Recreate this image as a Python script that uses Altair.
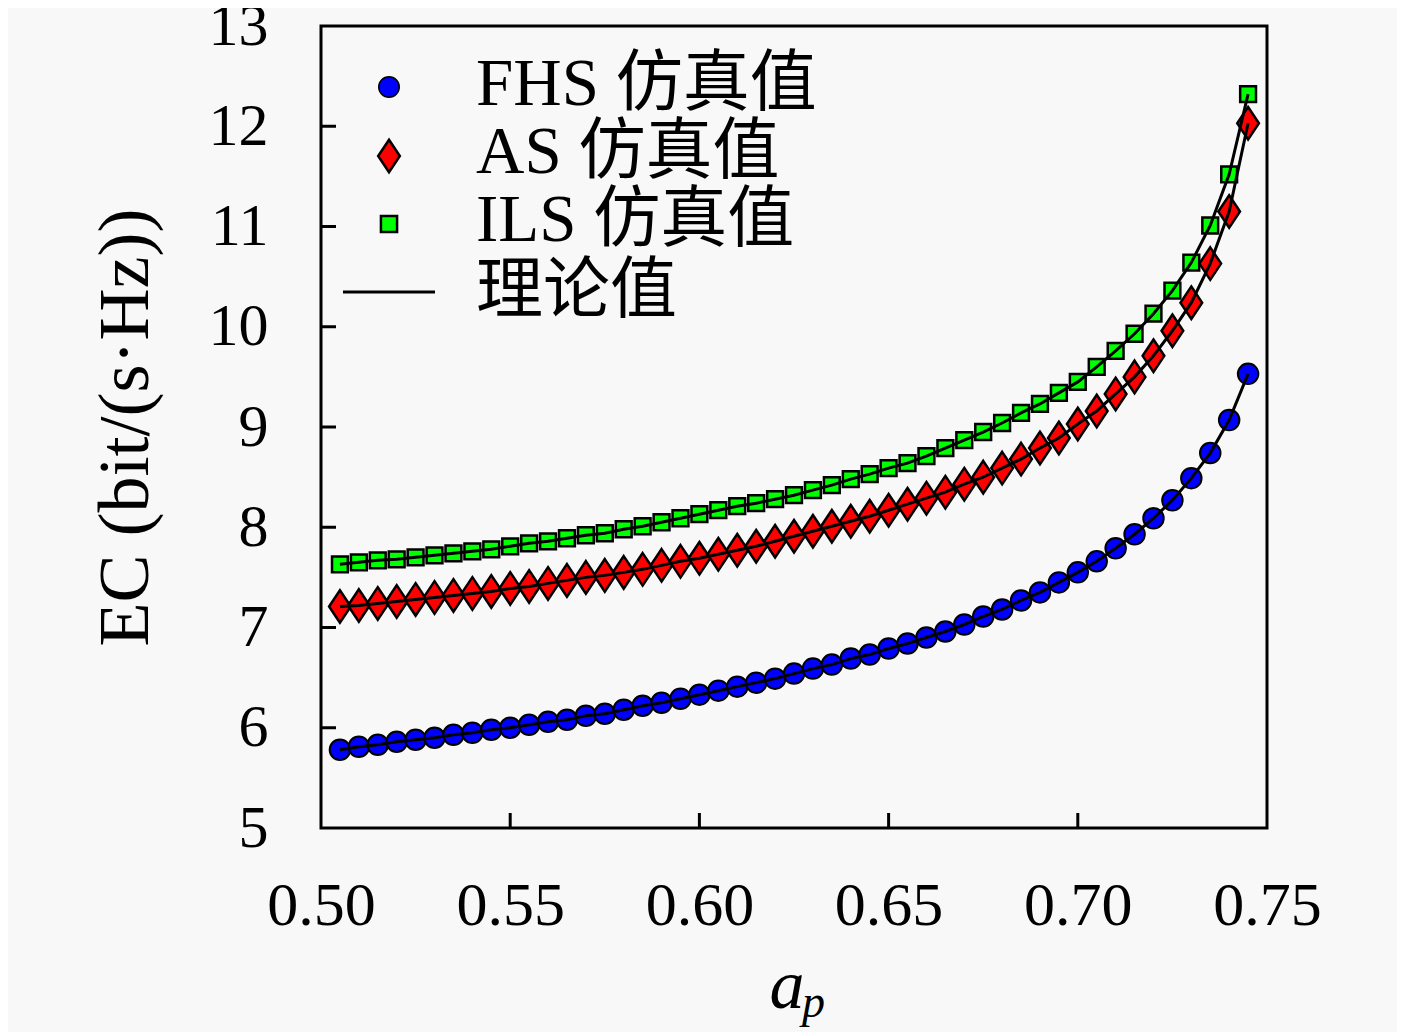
import altair as alt
import pandas as pd

# ---------------- data ----------------
ap = [0.505, 0.510, 0.515, 0.520, 0.525, 0.530, 0.535, 0.540, 0.545, 0.550,
      0.555, 0.560, 0.565, 0.570, 0.575, 0.580, 0.585, 0.590, 0.595, 0.600,
      0.605, 0.610, 0.615, 0.620, 0.625, 0.630, 0.635, 0.640, 0.645, 0.650,
      0.655, 0.660, 0.665, 0.670, 0.675, 0.680, 0.685, 0.690, 0.695, 0.700,
      0.705, 0.710, 0.715, 0.720, 0.725, 0.730, 0.735, 0.740, 0.745]

fhs = [5.78, 5.81, 5.83, 5.86, 5.88, 5.90, 5.93, 5.95, 5.98, 6.00,
       6.03, 6.06, 6.08, 6.12, 6.14, 6.18, 6.22, 6.25, 6.29, 6.33,
       6.37, 6.41, 6.45, 6.49, 6.54, 6.59, 6.63, 6.69, 6.73, 6.79,
       6.84, 6.90, 6.96, 7.03, 7.11, 7.18, 7.27, 7.35, 7.45, 7.55,
       7.66, 7.79, 7.93, 8.09, 8.27, 8.49, 8.74, 9.07, 9.53]

as_vals = [7.21, 7.22, 7.24, 7.26, 7.28, 7.30, 7.32, 7.34, 7.36, 7.39,
           7.41, 7.44, 7.47, 7.50, 7.52, 7.55, 7.58, 7.62, 7.66, 7.69,
           7.73, 7.77, 7.81, 7.86, 7.91, 7.96, 8.01, 8.06, 8.11, 8.17,
           8.23, 8.29, 8.35, 8.43, 8.50, 8.59, 8.68, 8.79, 8.89, 9.03,
           9.16, 9.33, 9.50, 9.71, 9.96, 10.24, 10.63, 11.15, 12.03]

ils = [7.63, 7.65, 7.67, 7.68, 7.70, 7.72, 7.74, 7.76, 7.78, 7.81,
       7.84, 7.86, 7.89, 7.92, 7.94, 7.98, 8.01, 8.05, 8.09, 8.13,
       8.17, 8.21, 8.24, 8.28, 8.32, 8.37, 8.42, 8.48, 8.53, 8.59,
       8.64, 8.71, 8.79, 8.87, 8.95, 9.04, 9.14, 9.23, 9.34, 9.45,
       9.60, 9.76, 9.93, 10.13, 10.36, 10.64, 11.01, 11.52, 12.32]

x_ticks = [0.50, 0.55, 0.60, 0.65, 0.70, 0.75]
y_ticks = [5, 6, 7, 8, 9, 10, 11, 12, 13]
legend_labels = ["FHS 仿真值", "AS 仿真值", "ILS 仿真值", "理论值"]
y_title = "EC (bit/(s·Hz))"

rows = []
for name, vals in [("FHS", fhs), ("AS", as_vals), ("ILS", ils)]:
    for a, v in zip(ap, vals):
        rows.append({"ap": a, "ec": v, "scheme": name})
df = pd.DataFrame(rows)

# ---------------- styling ----------------
W, H = 946, 802
FONT = "Liberation Serif"
CJK = "Liberation Serif, Noto Sans CJK SC"
BLUE, RED, GREEN = "#0000ff", "#ff0000", "#00ff00"
DIAMOND = "M0,-1.5L1,0L0,1.5L-1,0Z"

x_scale = alt.Scale(domain=[0.5, 0.75], nice=False, zero=False)
y_scale = alt.Scale(domain=[5, 13], nice=False, zero=False)

x_axis = alt.Axis(values=x_ticks, format=".2f", title=None, ticks=False,
                  domain=False, grid=False, labelFont=FONT, labelFontSize=62,
                  labelPadding=47, labelColor="black", labelFlush=False,
                  labelOverlap=False)
y_axis = alt.Axis(values=y_ticks, format="d", title=y_title, ticks=False,
                  domain=False, grid=False, labelFont=FONT, labelFontSize=60,
                  labelPadding=53, labelColor="black", labelFlush=False,
                  labelOverlap=False,
                  titleFont=FONT, titleFontSize=72, titleFontWeight="normal",
                  titleColor="black", titleBaseline="alphabetic",
                  titleX=-174, titleY=H / 2, titleAngle=-90)

x_enc = alt.X("ap:Q", scale=x_scale, axis=x_axis)
y_enc = alt.Y("ec:Q", scale=y_scale, axis=y_axis)

base = alt.Chart(df)

def pts(name, shape, fill, size, sw):
    return base.transform_filter(alt.datum.scheme == name).mark_point(
        shape=shape, filled=True, fill=fill, stroke="black", strokeWidth=sw,
        size=size, opacity=1, fillOpacity=1, strokeOpacity=1
    ).encode(x=x_enc, y=y_enc)

fhs_pts = pts("FHS", "circle", BLUE, 420, 2)
as_pts = pts("AS", DIAMOND, RED, 470, 2.5)
ils_pts = pts("ILS", "square", GREEN, 250, 2.5)

lines = base.mark_line(color="black", strokeWidth=3).encode(
    x=x_enc, y=y_enc, detail="scheme:N")

# inward ticks (same fields/axes as the data layers so the axes merge)
ytick_df = pd.DataFrame({"ec": y_ticks[1:-1]})
xtick_df = pd.DataFrame({"ap": x_ticks[1:-1]})
ytick_rules = alt.Chart(ytick_df).mark_rule(color="black", strokeWidth=3).encode(
    y=y_enc, x=alt.value(0), x2=alt.value(15))
xtick_rules = alt.Chart(xtick_df).mark_rule(color="black", strokeWidth=3).encode(
    x=x_enc, y=alt.value(H), y2=alt.value(H - 15))

# legend
one = pd.DataFrame({"d": [0]})
leg_c = alt.Chart(one).mark_point(shape="circle", filled=True, fill=BLUE, stroke="black",
                                   strokeWidth=1.5, size=420, opacity=1).encode(
    x=alt.value(68), y=alt.value(61))
leg_d = alt.Chart(one).mark_point(shape=DIAMOND, filled=True, fill=RED, stroke="black",
                                   strokeWidth=2.5, size=470, opacity=1).encode(
    x=alt.value(68), y=alt.value(130))
leg_s = alt.Chart(one).mark_point(shape="square", filled=True, fill=GREEN, stroke="black",
                                   strokeWidth=2.5, size=260, opacity=1).encode(
    x=alt.value(68), y=alt.value(198))
leg_l = alt.Chart(one).mark_rule(color="black", strokeWidth=3).encode(
    x=alt.value(22), x2=alt.value(114), y=alt.value(266))

leg_texts = []
for lab, yy in zip(legend_labels, [59, 127, 195, 266]):
    leg_texts.append(alt.Chart(one).mark_text(
        text=lab, font=CJK, fontSize=67, align="left", baseline="middle", color="black"
    ).encode(x=alt.value(155), y=alt.value(yy)))

# x-axis title a_p
xt_a = alt.Chart(one).mark_text(text="a", font=FONT, fontStyle="italic", fontSize=70,
                                 align="center", baseline="alphabetic", color="black").encode(
    x=alt.value(466), y=alt.value(982))
xt_p = alt.Chart(one).mark_text(text="p", font=FONT, fontStyle="italic", fontSize=46,
                                 align="left", baseline="alphabetic", color="black").encode(
    x=alt.value(481), y=alt.value(991))

chart = alt.layer(
    fhs_pts, as_pts, ils_pts, lines, ytick_rules, xtick_rules,
    leg_c, leg_d, leg_s, leg_l, *leg_texts, xt_a, xt_p
).properties(
    width=W, height=H,
    padding={"left": 313, "top": 18, "right": 130, "bottom": 206},
    autosize=alt.AutoSizeParams(type="none"),
    background="#f8f8f8",
).configure_view(stroke="black", strokeWidth=3)

chart.save("out.html", embed_options={"renderer": "svg", "actions": False})
